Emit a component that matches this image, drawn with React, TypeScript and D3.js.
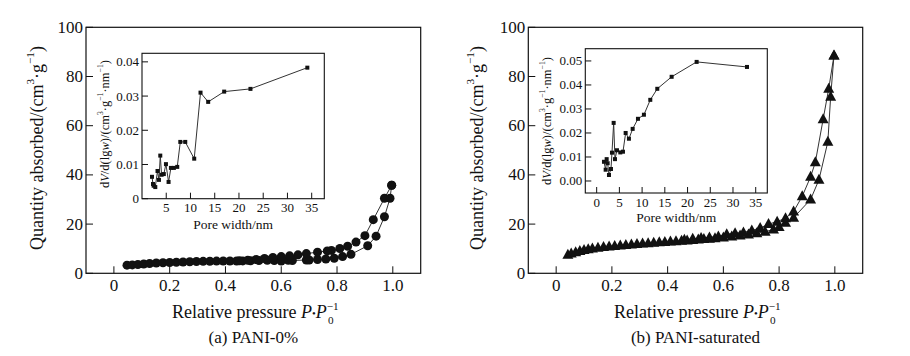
import React from "react";
import * as d3 from "d3";

// ---------- data ----------
const pressureTicks = [0, 0.2, 0.4, 0.6, 0.8, 1.0];
const quantityTicks = [0, 20, 40, 60, 80, 100];

// (a) PANI-0% isotherm
const aAdsP = [0.047, 0.066, 0.086, 0.107, 0.128, 0.152, 0.176, 0.2, 0.224, 0.248, 0.272, 0.296, 0.32, 0.344, 0.368, 0.392, 0.416, 0.44, 0.462, 0.49, 0.52, 0.55, 0.575, 0.6, 0.625, 0.64, 0.69, 0.7, 0.73, 0.76, 0.79, 0.82, 0.85, 0.91, 0.94, 0.97, 0.99, 0.996];
const aAdsQ = [3.3, 3.4, 3.6, 3.8, 4.0, 4.2, 4.3, 4.4, 4.5, 4.6, 4.7, 4.8, 4.85, 4.9, 4.95, 5.0, 5.0, 5.0, 5.05, 5.1, 5.2, 5.3, 5.2, 5.0, 5.3, 5.2, 5.4, 5.4, 5.6, 5.8, 6.1, 6.8, 7.7, 11.2, 15.1, 23.0, 30.5, 35.8];
const aDesP = [0.996, 0.97, 0.93, 0.9, 0.868, 0.838, 0.81, 0.78, 0.765, 0.73, 0.69, 0.66, 0.63, 0.6, 0.57, 0.54, 0.51, 0.48, 0.45];
const aDesQ = [35.8, 30.5, 21.8, 15.3, 12.7, 11.0, 10.1, 9.3, 9.1, 8.6, 8.0, 7.5, 7.1, 6.8, 6.4, 6.0, 5.6, 5.3, 5.1];

// (b) PANI-saturated isotherm
const bAdsP = [0.042, 0.054, 0.07, 0.085, 0.1, 0.115, 0.13, 0.15, 0.17, 0.19, 0.21, 0.23, 0.25, 0.27, 0.29, 0.31, 0.33, 0.35, 0.37, 0.39, 0.41, 0.43, 0.45, 0.47, 0.49, 0.51, 0.53, 0.55, 0.57, 0.6, 0.63, 0.66, 0.69, 0.72, 0.75, 0.78, 0.8, 0.823, 0.852, 0.913, 0.943, 0.975, 0.985, 0.997];
const bAdsQ = [7.5, 8.0, 8.6, 9.1, 9.5, 9.8, 10.1, 10.4, 10.7, 10.9, 11.1, 11.3, 11.5, 11.7, 11.9, 12.1, 12.2, 12.4, 12.6, 12.7, 12.9, 13.0, 13.2, 13.3, 13.5, 13.7, 13.9, 14.0, 14.2, 14.6, 15.0, 15.4, 15.8, 16.3, 16.9, 17.8, 18.8, 20.5, 22.6, 30.0, 38.0, 53.5, 71.8, 88.5];
const bDesP = [0.997, 0.978, 0.958, 0.93, 0.913, 0.883, 0.852, 0.823, 0.793, 0.762, 0.732, 0.702, 0.672, 0.642, 0.612, 0.582, 0.55, 0.52, 0.49, 0.46];
const bDesQ = [88.5, 75.0, 62.6, 45.1, 39.2, 31.3, 25.1, 22.4, 21.0, 20.0, 18.4, 17.4, 16.6, 16.3, 15.9, 15.0, 14.6, 14.3, 14.0, 13.6];

// insets: pore size distribution
const aPoreW = [2.06, 2.27, 2.4, 2.74, 3.2, 3.5, 3.77, 4.04, 4.5, 4.94, 5.48, 5.96, 6.58, 7.27, 7.9, 8.92, 10.77, 12.07, 13.65, 16.95, 22.37, 34.1];
const aPoreV = [0.0064, 0.0043, 0.0038, 0.0034, 0.0081, 0.0055, 0.0126, 0.007, 0.0072, 0.0101, 0.0049, 0.009, 0.009, 0.0093, 0.0166, 0.0166, 0.0117, 0.031, 0.0283, 0.0313, 0.0321, 0.0383];
const bPoreW = [1.61, 1.98, 2.2, 2.42, 2.71, 3.15, 3.37, 3.74, 4.03, 4.47, 5.2, 5.79, 6.38, 7.1, 7.92, 9.09, 10.4, 11.8, 13.34, 16.5, 22.0, 33.08];
const bPoreV = [0.008, 0.0047, 0.0091, 0.0074, 0.0025, 0.005, 0.0118, 0.0242, 0.0091, 0.0128, 0.0119, 0.0122, 0.02, 0.0176, 0.0217, 0.0259, 0.0276, 0.0338, 0.0384, 0.0434, 0.0496, 0.0475];

const aPoreTicksX = [5, 10, 15, 20, 25, 30, 35];
const aPoreTicksY = [0, 0.01, 0.02, 0.03, 0.04];
const bPoreTicksX = [0, 5, 10, 15, 20, 25, 30, 35];
const bPoreTicksY = [0, 0.01, 0.02, 0.03, 0.04, 0.05];

const captions = ["(a) PANI-0%", "(b) PANI-saturated"];

// ---------- drawing ----------
const FONT = "'Liberation Serif', 'Times New Roman', serif";
const INK = "#111";

type Box = { l: number; r: number; t: number; b: number };

function YTitle({ x, y, size }: { x: number; y: number; size: number }) {
  const s = size * 0.62;
  return (
    <text transform={`translate(${x},${y}) rotate(-90)`} textAnchor="middle" dominantBaseline="central" fontSize={size} fill={INK} fontFamily={FONT}>
      Quantity absorbed/(cm<tspan dy={-size * 0.38} fontSize={s}>3</tspan>
      <tspan dy={size * 0.38}>·g</tspan>
      <tspan dy={-size * 0.38} fontSize={s}>−1</tspan>
      <tspan dy={size * 0.38}>)</tspan>
    </text>
  );
}

function InsetYTitle({ x, y, size }: { x: number; y: number; size: number }) {
  const s = size * 0.62;
  const up = size * 0.38;
  return (
    <text transform={`translate(${x},${y}) rotate(-90)`} textAnchor="middle" dominantBaseline="central" fontSize={size} fill={INK} fontFamily={FONT}>
      d<tspan fontStyle="italic">V</tspan>/d(lg<tspan fontStyle="italic">w</tspan>)/(cm
      <tspan dy={-up} fontSize={s}>3</tspan>
      <tspan dy={up}>·g</tspan>
      <tspan dy={-up} fontSize={s}>−1</tspan>
      <tspan dy={up}>·nm</tspan>
      <tspan dy={-up} fontSize={s}>−1</tspan>
      <tspan dy={up}>)</tspan>
    </text>
  );
}

function XTitle({ cx, y, size }: { cx: number; y: number; size: number }) {
  const s = size * 0.62;
  return (
    <text x={cx} y={y} textAnchor="middle" fontSize={size} fill={INK} fontFamily={FONT}>
      Relative pressure <tspan fontStyle="italic">P</tspan>
      <tspan fontSize={size * 0.6} dy={-size * 0.05}>•</tspan>
      <tspan fontStyle="italic" dy={size * 0.05}>P</tspan>
      <tspan fontSize={s} dy={-size * 0.42}>−1</tspan>
      <tspan fontSize={s} dx={-s * 0.95} dy={size * 0.78}>0</tspan>
      <tspan fontSize={s} dx={s * 0.4} dy={-size * 0.36}>{"\u00a0"}</tspan>
    </text>
  );
}

function trianglePath(cx: number, cy: number, w: number, h: number) {
  return `M${cx},${cy - h * 0.6}L${cx + w / 2},${cy + h * 0.4}L${cx - w / 2},${cy + h * 0.4}Z`;
}

function Panel(props: {
  box: Box;
  adsP: number[]; adsQ: number[]; desP: number[]; desQ: number[];
  marker: "circle" | "triangle";
  inset: Box; insetXDomain: [number, number]; insetYDomain: [number, number];
  poreW: number[]; poreV: number[]; poreTicksX: number[]; poreTicksY: number[];
  yFmt: (v: number) => string;
  yTitleX: number; insetTitleX: number; insetTitleY: number; insetXLabelY: number; insetTickY: number;
  caption: string;
}) {
  const { box, inset } = props;
  const x = d3.scaleLinear().domain([-0.1, 1.1]).range([box.l, box.r]);
  const y = d3.scaleLinear().domain([0, 100]).range([box.b, box.t]);
  const line = d3.line<[number, number]>().x((d) => x(d[0])).y((d) => y(d[1]));
  const ads = props.adsP.map((p, i) => [p, props.adsQ[i]] as [number, number]);
  const des = props.desP.map((p, i) => [p, props.desQ[i]] as [number, number]);

  const ix = d3.scaleLinear().domain(props.insetXDomain).range([inset.l, inset.r]);
  const iy = d3.scaleLinear().domain(props.insetYDomain).range([inset.b, inset.t]);
  const iline = d3.line<[number, number]>().x((d) => ix(d[0])).y((d) => iy(d[1]));
  const pore = props.poreW.map((w, i) => [w, props.poreV[i]] as [number, number]);

  const tick = 7;
  const itick = 6;
  const cx = (box.l + box.r) / 2;

  const markers = (pts: [number, number][], key: string) =>
    pts.map((d, i) =>
      props.marker === "circle" ? (
        <circle key={key + i} cx={x(d[0])} cy={y(d[1])} r={4.5} fill={INK} />
      ) : (
        <path key={key + i} d={trianglePath(x(d[0]), y(d[1]), 11, 10)} fill={INK} />
      )
    );

  return (
    <g>
      {/* main axes */}
      <rect x={box.l} y={box.t} width={box.r - box.l} height={box.b - box.t} fill="none" stroke={INK} strokeWidth={1.2} />
      {pressureTicks.map((t) => (
        <g key={"xt" + t}>
          <line x1={x(t)} x2={x(t)} y1={box.b} y2={box.b - tick} stroke={INK} strokeWidth={1} />
          <text x={x(t)} y={box.b + 18} textAnchor="middle" fontSize={17} fill={INK} fontFamily={FONT}>
            {t === 0 ? "0" : t.toFixed(1)}
          </text>
        </g>
      ))}
      {quantityTicks.map((t) => (
        <g key={"yt" + t}>
          <line x1={box.l} x2={box.l + tick} y1={y(t)} y2={y(t)} stroke={INK} strokeWidth={1} />
          <text x={box.l - 3} y={y(t)} textAnchor="end" dominantBaseline="central" fontSize={17} fill={INK} fontFamily={FONT}>
            {t}
          </text>
        </g>
      ))}
      <YTitle x={props.yTitleX} y={148} size={18} />
      <XTitle cx={cx + 3} y={318} size={18} />
      <text x={cx} y={343} textAnchor="middle" fontSize={17} fill={INK} fontFamily={FONT}>
        {props.caption}
      </text>

      {/* isotherm */}
      <path d={line(ads) || ""} fill="none" stroke="#333" strokeWidth={1} />
      <path d={line(des) || ""} fill="none" stroke="#333" strokeWidth={1} />
      {markers(ads, "a")}
      {markers(des, "d")}

      {/* inset */}
      <rect x={inset.l} y={inset.t} width={inset.r - inset.l} height={inset.b - inset.t} fill="white" stroke={INK} strokeWidth={1.1} />
      {props.poreTicksX.map((t) => (
        <g key={"ixt" + t}>
          <line x1={ix(t)} x2={ix(t)} y1={inset.b} y2={inset.b - itick} stroke={INK} strokeWidth={1} />
          <text x={ix(t)} y={props.insetTickY} textAnchor="middle" fontSize={13} fill={INK} fontFamily={FONT}>
            {t}
          </text>
        </g>
      ))}
      {props.poreTicksY.map((t) => (
        <g key={"iyt" + t}>
          <line x1={inset.l} x2={inset.l + itick} y1={iy(t)} y2={iy(t)} stroke={INK} strokeWidth={1} />
          <text x={inset.l - 3} y={iy(t)} textAnchor="end" dominantBaseline="central" fontSize={13} fill={INK} fontFamily={FONT}>
            {props.yFmt(t)}
          </text>
        </g>
      ))}
      <text x={(inset.l + inset.r) / 2} y={props.insetXLabelY} textAnchor="middle" fontSize={13.5} fill={INK} fontFamily={FONT}>
        Pore width/nm
      </text>
      <InsetYTitle x={props.insetTitleX} y={props.insetTitleY} size={12.5} />
      <path d={iline(pore) || ""} fill="none" stroke="#333" strokeWidth={1} />
      {pore.map((d, i) => (
        <rect key={"sq" + i} x={ix(d[0]) - 2} y={iy(d[1]) - 2} width={4} height={4} fill={INK} />
      ))}
    </g>
  );
}

export default function App() {
  return (
    <svg width={910} height={356} style={{ position: "absolute", left: 0, top: 0, background: "white" }}>
      <rect x={0} y={0} width={910} height={356} fill="white" />
      <Panel
        box={{ l: 86, r: 420.7, t: 27.3, b: 273.3 }}
        adsP={aAdsP} adsQ={aAdsQ} desP={aDesP} desQ={aDesQ}
        marker="circle"
        inset={{ l: 142, r: 324.3, t: 53.3, b: 198.7 }}
        insetXDomain={[0, 37.6]} insetYDomain={[0, 0.0425]}
        poreW={aPoreW} poreV={aPoreV} poreTicksX={aPoreTicksX} poreTicksY={aPoreTicksY}
        yFmt={(v) => (v === 0 ? "0" : v.toFixed(2))}
        yTitleX={37} insetTitleX={105} insetTitleY={124} insetXLabelY={229} insetTickY={212}
        caption={captions[0]}
      />
      <Panel
        box={{ l: 528.3, r: 862.7, t: 27.3, b: 273.3 }}
        adsP={bAdsP} adsQ={bAdsQ} desP={bDesP} desQ={bDesQ}
        marker="triangle"
        inset={{ l: 585.3, r: 767.3, t: 48.7, b: 193 }}
        insetXDomain={[-2.5, 37.55]} insetYDomain={[-0.005, 0.0551]}
        poreW={bPoreW} poreV={bPoreV} poreTicksX={bPoreTicksX} poreTicksY={bPoreTicksY}
        yFmt={(v) => v.toFixed(2)}
        yTitleX={477} insetTitleX={547} insetTitleY={121} insetXLabelY={222} insetTickY={207}
        caption={captions[1]}
      />
    </svg>
  );
}
